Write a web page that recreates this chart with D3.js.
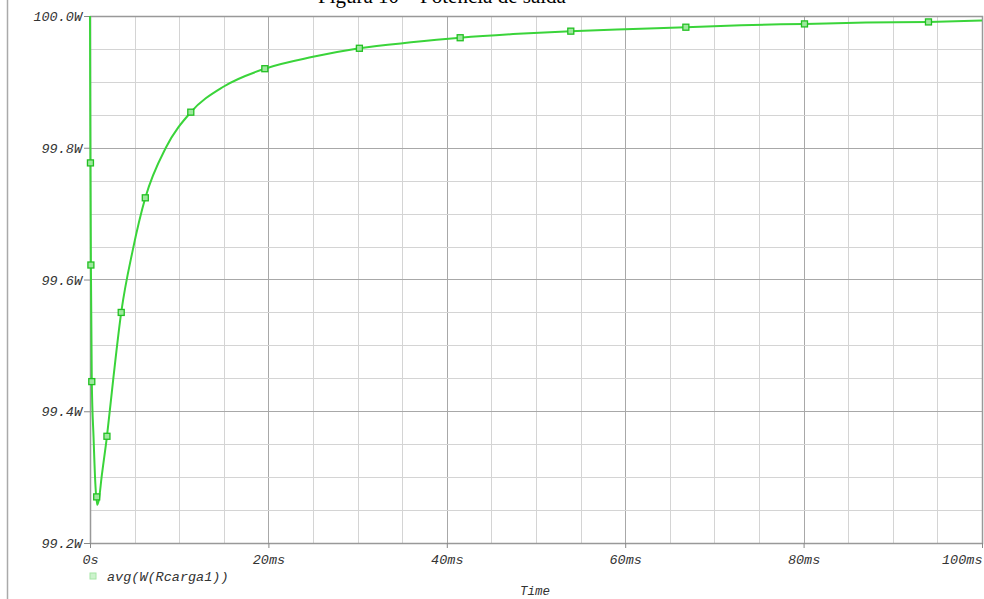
<!DOCTYPE html>
<html>
<head>
<meta charset="utf-8">
<script src="https://cdn.jsdelivr.net/npm/d3@7"></script>
<style>
  body { margin: 0; background: #fff; }
  svg { display: block; }
  text { font-family: "Liberation Mono", "DejaVu Sans Mono", monospace; font-style: italic; fill: #333; }
</style>
</head>
<body>
<div id="chart"></div>
<script>
// curve samples (time in ms, power in W)
var lineTimes  = [0, 0.02, 0.05, 0.1, 0.2, 0.4, 0.6, 0.8, 1.0, 1.3, 1.9, 2.6, 3.5, 4.8, 6.2, 8.5, 11.3, 15, 19.6, 25, 30.2, 36, 41.5, 48, 53.9, 60, 66.8, 73, 80.1, 87, 94, 100];
var lineValues = [100.0, 99.9, 99.777, 99.622, 99.445, 99.36, 99.29, 99.258, 99.266, 99.3, 99.362, 99.448, 99.55, 99.645, 99.724, 99.80, 99.854, 99.893, 99.92, 99.938, 99.951, 99.960, 99.967, 99.973, 99.977, 99.980, 99.983, 99.986, 99.988, 99.990, 99.991, 99.993];

// marker positions
var markTimes  = [0.05, 0.1, 0.2, 0.75, 1.9, 3.5, 6.2, 11.3, 19.6, 30.2, 41.5, 53.9, 66.8, 80.1, 94];
var markValues = [99.777, 99.622, 99.445, 99.27, 99.362, 99.55, 99.724, 99.854, 99.92, 99.951, 99.967, 99.977, 99.983, 99.988, 99.991];

var xTicks = [0, 20, 40, 60, 80, 100];
var xTickLabels = ["0s", "20ms", "40ms", "60ms", "80ms", "100ms"];
var yTicks = [99.2, 99.4, 99.6, 99.8, 100.0];
var yTickLabels = ["99.2W", "99.4W", "99.6W", "99.8W", "100.0W"];
var seriesName = "avg(W(Rcarga1))";
var xTitle = "Time";
var figTitle = "Figura 10 \u2013 Pot\u00eancia de sa\u00edda";

(function () {
    var width = 984, height = 599,
        left = 90, right = 982, top = 16, bottom = 543,
        green = "#3ad43a";

    var svg = d3.select("#chart").append("svg")
        .attr("width", width).attr("height", height);

    var x = d3.scaleLinear().domain([0, 100]).range([left, right]);
    var y = d3.scaleLinear().domain([99.2, 100.0]).range([bottom, top]);

    // title, cut at the top like the scan
    svg.append("text")
        .attr("x", 318).attr("y", 3)
        .style("font-family", "'Liberation Serif', serif")
        .style("font-style", "normal")
        .style("font-size", "21px")
        .style("fill", "#000")
        .text(figTitle);

    // page border on the left
    svg.append("line")
        .attr("x1", 7.5).attr("x2", 7.5).attr("y1", 0).attr("y2", height)
        .style("stroke", "#aaa").style("stroke-width", 1.5);

    // grid
    var g = svg.append("g");
    g.selectAll("line.vx").data(d3.range(5, 100, 5))
        .enter().append("line")
        .attr("x1", function (d) { return Math.round(x(d)) + 0.5; })
        .attr("x2", function (d) { return Math.round(x(d)) + 0.5; })
        .attr("y1", top).attr("y2", bottom)
        .style("stroke", function (d) { return d % 20 ? "#d4d4d4" : "#a8a8a8"; });

    g.selectAll("line.hy").data(d3.range(1, 16))
        .enter().append("line")
        .attr("y1", function (d) { return Math.round(y(99.2 + d * 0.05)) + 0.5; })
        .attr("y2", function (d) { return Math.round(y(99.2 + d * 0.05)) + 0.5; })
        .attr("x1", left).attr("x2", right)
        .style("stroke", function (d) { return d % 4 ? "#d4d4d4" : "#a8a8a8"; });

    // frame
    svg.append("rect")
        .attr("x", left + 0.5).attr("y", top + 0.5)
        .attr("width", right - left).attr("height", bottom - top)
        .style("fill", "none").style("stroke", "#999").style("stroke-width", 1.5);

    // axes
    var xAxis = d3.axisBottom(x).tickValues(xTicks).tickSize(5).tickPadding(6)
        .tickFormat(function (d, i) { return xTickLabels[i]; });
    var ax = svg.append("g").attr("transform", "translate(0," + bottom + ")").call(xAxis);
    var yAxis = d3.axisLeft(y).tickValues(yTicks).tickSize(6).tickPadding(2)
        .tickFormat(function (d, i) { return yTickLabels[i]; });
    var ay = svg.append("g").attr("transform", "translate(" + left + ",0)").call(yAxis);

    [ax, ay].forEach(function (a) {
        a.select(".domain").remove();
        a.selectAll("line").style("stroke", "#888");
        a.selectAll("text")
            .style("font-family", "'Liberation Mono', monospace")
            .style("font-style", "italic")
            .style("font-size", "13.5px")
            .style("fill", "#333");
    });
    ay.selectAll("text").attr("dy", "0.35em");
    // last x label sits flush with the right edge
    ax.selectAll(".tick text")
        .filter(function (d) { return d === 100; })
        .attr("text-anchor", "end");

    // curve
    var pts = lineTimes.map(function (t, i) { return [t, lineValues[i]]; });
    var line = d3.line()
        .x(function (d) { return x(d[0]); })
        .y(function (d) { return y(d[1]); })
        .curve(d3.curveMonotoneX);

    svg.append("path")
        .datum(pts)
        .attr("d", line)
        .style("fill", "none")
        .style("stroke", green)
        .style("stroke-width", 2);

    // markers
    var ms = 6;
    svg.selectAll("rect.mark").data(markTimes)
        .enter().append("rect")
        .attr("x", function (d) { return x(d) - ms / 2; })
        .attr("y", function (d, i) { return y(markValues[i]) - ms / 2; })
        .attr("width", ms).attr("height", ms)
        .style("fill", "#9ee89e")
        .style("stroke", "#22c022")
        .style("stroke-width", 1.3);

    // legend
    svg.append("rect")
        .attr("x", 90).attr("y", 573).attr("width", 6).attr("height", 6)
        .style("fill", "#cdf3cd").style("stroke", "#a6e6a6");
    svg.append("text")
        .attr("x", 107).attr("y", 581)
        .style("font-size", "13.5px")
        .text(seriesName);

    svg.append("text")
        .attr("x", 520).attr("y", 595)
        .style("font-size", "12.5px")
        .text(xTitle);
}());
</script>
</body>
</html>
